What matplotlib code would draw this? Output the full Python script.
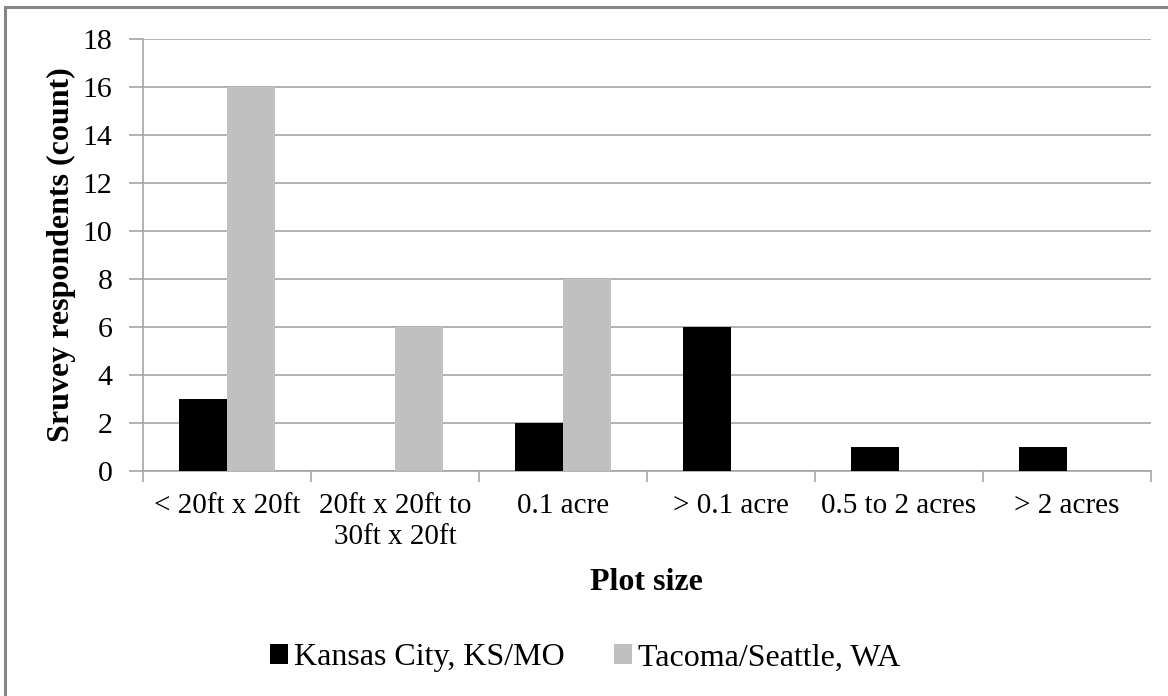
import matplotlib
matplotlib.use("Agg")
import matplotlib.pyplot as plt
import numpy as np
from matplotlib.patches import Rectangle

categories = ["< 20ft x 20ft", "20ft x 20ft to\n30ft x 20ft", "0.1 acre",
              "> 0.1 acre", "0.5 to 2 acres", "> 2 acres"]
kansas = [3, 0, 2, 6, 1, 1]
tacoma = [16, 6, 8, 0, 0, 0]
series_names = ["Kansas City, KS/MO", "Tacoma/Seattle, WA"]
yticks = [0, 2, 4, 6, 8, 10, 12, 14, 16, 18]

plt.rcParams['font.family'] = ['Liberation Serif', 'DejaVu Serif']

W, H = 1168, 696
aw = 1150.5 - 143
fig = plt.figure(figsize=(W / 100, H / 100), dpi=100)
ax = fig.add_axes([143 / W, 1 - 470.7 / H, aw / W, (470.7 - 38.7) / H])

grid_c = "#a6a6a6"
x = np.arange(len(categories))
bw = 1 / 3.5
ax.bar(x - bw / 2, kansas, width=bw, color="#000000", label=series_names[0], zorder=3)
ax.bar(x + bw / 2, tacoma, width=bw, color="#c0c0c0", label=series_names[1], zorder=3)

ax.set_xlim(-0.5, len(categories) - 0.5)
ax.set_ylim(0, 18)
ax.set_yticks(yticks)
ax.set_yticklabels([str(v) for v in yticks], fontsize=21.5)
ax.yaxis.grid(True, color=grid_c, linewidth=1.2, zorder=0)
ax.set_axisbelow(True)

ax.set_xticks(x)
ax.set_xticklabels(categories, fontsize=21, linespacing=1.25)
ax.tick_params(axis='x', which='major', length=0, pad=16)
ax.set_xticks(np.arange(len(categories) + 1) - 0.5, minor=True)
ax.tick_params(axis='x', which='minor', length=8, width=1.2, color=grid_c, direction='out')
ax.tick_params(axis='y', length=10, width=1.2, color=grid_c, direction='out', pad=12)

for s in ['top', 'right']:
    ax.spines[s].set_visible(False)
for s in ['left', 'bottom']:
    ax.spines[s].set_color(grid_c)
    ax.spines[s].set_linewidth(1.2)

ax.set_xlabel("Plot size", fontsize=23, fontweight='bold', labelpad=13)
ax.set_ylabel("Sruvey respondents (count)", fontsize=23, fontweight='bold')
ax.yaxis.set_label_coords(-67 / aw, 0.5)

leg = fig.legend(loc='center', bbox_to_anchor=(585 / W, 1 - 658 / H), ncol=2,
                 frameon=False, fontsize=23, handlelength=0.56, handleheight=0.56,
                 handletextpad=0.18, columnspacing=1.55)

fig.patches.append(Rectangle((5 / W, -0.05), 1.1, 1 - 7 / H + 0.05,
                             transform=fig.transFigure, fill=False,
                             edgecolor="#868686", linewidth=2.2))

fig.savefig("out.png", dpi=100)
